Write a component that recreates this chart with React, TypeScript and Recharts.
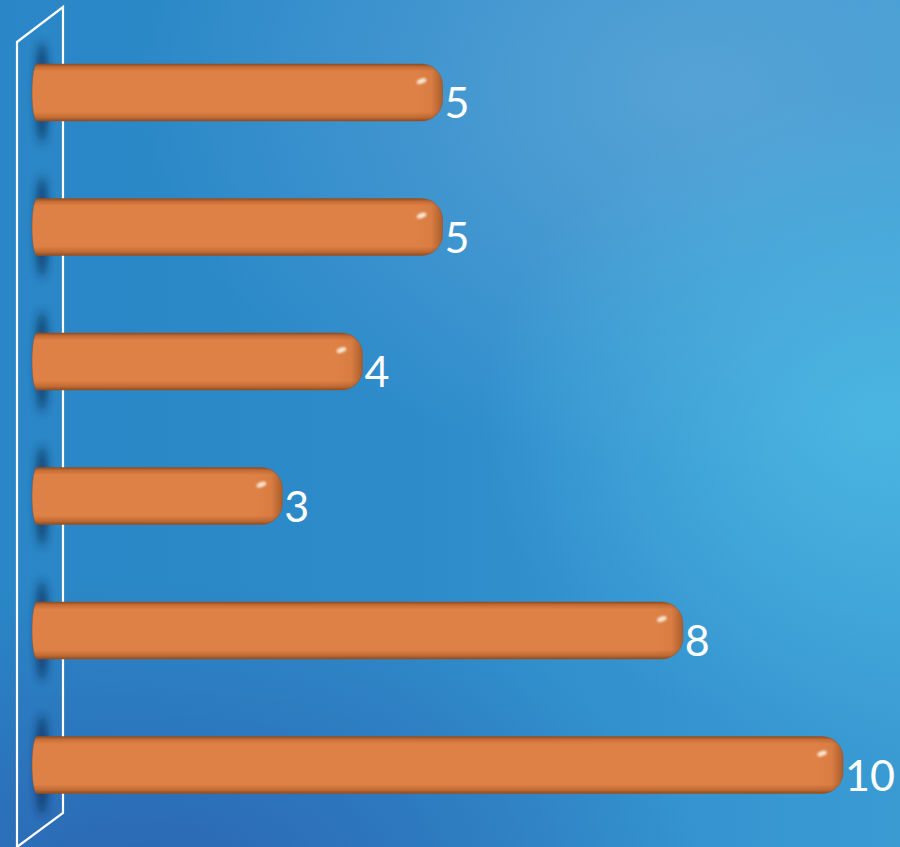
import { Bar, BarChart, XAxis, YAxis, LabelList, usePlotArea } from "recharts"

const categories = ["A", "B", "C", "D", "E", "F"]
const values = [5, 5, 4, 3, 8, 10]

const data = categories.map((name, i) => ({ name, value: values[i] }))

const W = 900
const H = 847

function Wall() {
  const area = usePlotArea()
  if (!area) return null
  const left = area.x
  const top = area.y
  const bottom = area.y + area.height
  const back = left + 21
  const front = left - 25
  const pts = [
    [front, top + 17],
    [back, top - 18],
    [back, bottom - 19],
    [front, bottom + 15],
  ]
  return (
    <polygon
      points={pts.map((p) => p.join(",")).join(" ")}
      fill="none"
      stroke="#ffffff"
      strokeWidth={2.2}
      strokeLinejoin="miter"
    />
  )
}

function CapsuleBar(props: any) {
  const { x, y, width, height, index } = props
  const x0 = x - 10
  const x1 = x + width
  const r = 21
  const lr = 5
  const gid = `endShade${index}`
  const d = [
    `M ${x0 + lr} ${y}`,
    `L ${x1 - r} ${y}`,
    `A ${r} ${r} 0 0 1 ${x1} ${y + r}`,
    `L ${x1} ${y + height - r}`,
    `A ${r} ${r} 0 0 1 ${x1 - r} ${y + height}`,
    `L ${x0 + lr} ${y + height}`,
    `A ${lr} ${height / 2} 0 0 1 ${x0 + lr} ${y}`,
    "Z",
  ].join(" ")
  return (
    <g>
      <defs>
        <linearGradient id={gid} gradientUnits="userSpaceOnUse" x1={x1 - 28} y1={0} x2={x1} y2={0}>
          <stop offset="0" stopColor="#7a3a12" stopOpacity={0} />
          <stop offset="0.6" stopColor="#7a3a12" stopOpacity={0.06} />
          <stop offset="1" stopColor="#7a3a12" stopOpacity={0.5} />
        </linearGradient>
      </defs>
      <ellipse
        cx={x0 + 10}
        cy={y + height / 2}
        rx={5}
        ry={height / 2 + 22}
        fill="#0a2347"
        opacity={0.85}
        filter="url(#wallShadow)"
      />
      <path d={d} fill="url(#barBody)" />
      <path d={d} fill={`url(#${gid})`} />
      <path d={d} fill="none" stroke="#9a5224" strokeOpacity={0.55} strokeWidth={1} />
      <ellipse
        cx={x1 - 21}
        cy={y + 17}
        rx={5}
        ry={2.6}
        transform={`rotate(-20 ${x1 - 21} ${y + 17})`}
        fill="#fff6e8"
        opacity={0.85}
        filter="url(#glint)"
      />
    </g>
  )
}

function ValueLabel(props: any) {
  const { x, y, width, height, value } = props
  return (
    <text
      x={x + width + 2}
      y={y + height / 2 + 9}
      fill="#ffffff"
      fontSize={43}
      fontFamily="Lato, 'Open Sans', sans-serif"
      dominantBaseline="central"
      textAnchor="start"
    >
      {value}
    </text>
  )
}

export default function App() {
  return (
    <div
      style={{
        position: "absolute",
        left: 0,
        top: 0,
        width: W,
        height: H,
        overflow: "hidden",
        background:
          "radial-gradient(ellipse 400px 330px at 880px 420px, rgba(78,186,228,0.85), rgba(78,186,228,0) 100%)," +
          "radial-gradient(ellipse 560px 380px at 700px 90px, rgba(100,168,216,0.7), rgba(100,168,216,0) 100%)," +
          "radial-gradient(ellipse 560px 300px at 150px 880px, rgba(44,96,176,0.85), rgba(44,96,176,0) 100%)," +
          "linear-gradient(90deg, #2a86c6 0%, #2e8bca 45%, #3a9bd3 100%)",
      }}
    >
      <BarChart
        width={W}
        height={H}
        data={data}
        layout="vertical"
        margin={{ top: 25, right: 57, bottom: 15, left: 42 }}
        barSize={57}
      >
        <defs>
          <linearGradient id="barBody" x1="0" y1="0" x2="0" y2="1">
            <stop offset="0" stopColor="#8c4a20" />
            <stop offset="0.05" stopColor="#c56c35" />
            <stop offset="0.13" stopColor="#de8146" />
            <stop offset="0.84" stopColor="#de8146" />
            <stop offset="0.94" stopColor="#bf6a33" />
            <stop offset="1" stopColor="#8e4c22" />
          </linearGradient>
          <filter id="wallShadow" x="-300%" y="-50%" width="700%" height="200%">
            <feGaussianBlur stdDeviation="5" />
          </filter>
          <filter id="glint" x="-100%" y="-100%" width="300%" height="300%">
            <feGaussianBlur stdDeviation="1" />
          </filter>
        </defs>
        <XAxis type="number" domain={[0, 10]} hide />
        <YAxis type="category" dataKey="name" hide width={0} />
        <Wall />
        <Bar dataKey="value" isAnimationActive={false} shape={CapsuleBar}>
          <LabelList dataKey="value" content={ValueLabel} />
        </Bar>
      </BarChart>
    </div>
  )
}
